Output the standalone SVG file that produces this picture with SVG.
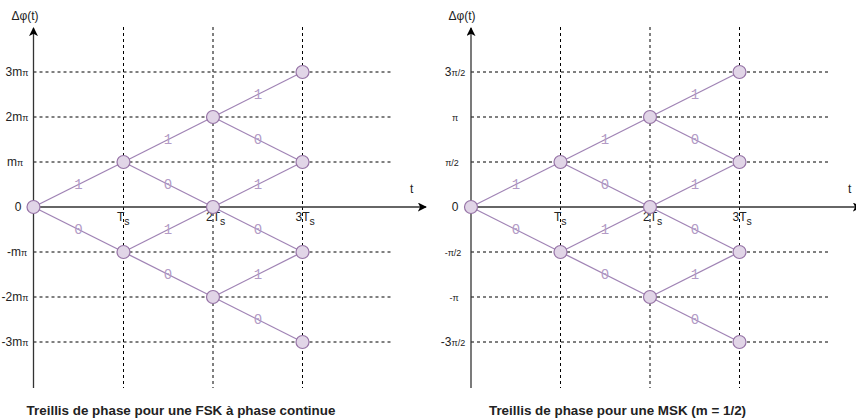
<svg xmlns="http://www.w3.org/2000/svg" width="856" height="420" viewBox="0 0 856 420">
<style>
.grid{stroke:#000;stroke-width:1;stroke-dasharray:3 3;fill:none}
.axis{stroke:#333;stroke-width:1.3;fill:none}
.edge{stroke:#a084b5;stroke-width:1.3;fill:none}
.node{fill:#e1d5e7;stroke:#9673a6;stroke-width:1.2}
.lbl{font-family:"Liberation Mono","DejaVu Sans Mono",monospace;font-size:14px;fill:#b39bc6;text-anchor:middle}
.t{font-family:"Liberation Sans",Arial,sans-serif;font-size:12px;fill:#222}
.c{text-anchor:middle}
.sm{font-size:9px}
.sub{font-size:10.5px}
.title{font-family:"Liberation Sans",Arial,sans-serif;font-size:13.4px;font-weight:bold;fill:#222;text-anchor:middle}
</style>
<defs>
<marker id="arr" viewBox="0 0 10 10" refX="9" refY="5" markerWidth="9" markerHeight="9" markerUnits="userSpaceOnUse" orient="auto">
<path d="M0,0 L10,5 L0,10 L2.5,5 Z" fill="#000"/>
</marker>
</defs>

<!-- LEFT CHART -->
<g id="left-grid">
<line class="grid" x1="33.5" y1="72" x2="393" y2="72"/>
<line class="grid" x1="33.5" y1="117" x2="393" y2="117"/>
<line class="grid" x1="33.5" y1="162" x2="393" y2="162"/>
<line class="grid" x1="33.5" y1="252" x2="393" y2="252"/>
<line class="grid" x1="33.5" y1="297" x2="393" y2="297"/>
<line class="grid" x1="33.5" y1="342" x2="393" y2="342"/>
<line class="grid" x1="123.5" y1="27" x2="123.5" y2="388"/>
<line class="grid" x1="213" y1="27" x2="213" y2="388"/>
<line class="grid" x1="302.5" y1="27" x2="302.5" y2="388"/>
</g>
<g id="left-axes">
<line class="axis" x1="33.5" y1="388" x2="33.5" y2="28" marker-end="url(#arr)"/>
<line class="axis" x1="33.5" y1="207" x2="426" y2="207" marker-end="url(#arr)"/>
<text class="t c" x="25" y="20">Δφ(t)</text>
<text class="t" x="410" y="193">t</text>
<text class="t c" x="17" y="76">3m<tspan class="sm">π</tspan></text>
<text class="t c" x="17" y="121">2m<tspan class="sm">π</tspan></text>
<text class="t c" x="15" y="166">m<tspan class="sm">π</tspan></text>
<text class="t c" x="18" y="211">0</text>
<text class="t c" x="17" y="256">-m<tspan class="sm">π</tspan></text>
<text class="t c" x="15" y="301">-2m<tspan class="sm">π</tspan></text>
<text class="t c" x="15" y="346">-3m<tspan class="sm">π</tspan></text>
<text class="t" x="117" y="221">T<tspan class="sub" dy="4">s</tspan></text>
<text class="t" x="206" y="221">2T<tspan class="sub" dy="4">s</tspan></text>
<text class="t" x="295.5" y="221">3T<tspan class="sub" dy="4">s</tspan></text>
</g>
<g id="left-connectors">
<line class="edge" x1="33.5" y1="207" x2="123.5" y2="162"/>
<line class="edge" x1="33.5" y1="207" x2="123.5" y2="252"/>
<line class="edge" x1="123.5" y1="162" x2="213" y2="117"/>
<line class="edge" x1="123.5" y1="162" x2="213" y2="207"/>
<line class="edge" x1="123.5" y1="252" x2="213" y2="207"/>
<line class="edge" x1="123.5" y1="252" x2="213" y2="297"/>
<line class="edge" x1="213" y1="117" x2="302.5" y2="72"/>
<line class="edge" x1="213" y1="117" x2="302.5" y2="162"/>
<line class="edge" x1="213" y1="207" x2="302.5" y2="162"/>
<line class="edge" x1="213" y1="207" x2="302.5" y2="252"/>
<line class="edge" x1="213" y1="297" x2="302.5" y2="252"/>
<line class="edge" x1="213" y1="297" x2="302.5" y2="342"/>
<text class="lbl" x="78.5" y="189">1</text>
<text class="lbl" x="78.5" y="234">0</text>
<text class="lbl" x="168" y="144">1</text>
<text class="lbl" x="168" y="189">0</text>
<text class="lbl" x="168" y="234">1</text>
<text class="lbl" x="168" y="279">0</text>
<text class="lbl" x="258" y="99">1</text>
<text class="lbl" x="258" y="144">0</text>
<text class="lbl" x="258" y="189">1</text>
<text class="lbl" x="258" y="234">0</text>
<text class="lbl" x="258" y="279">1</text>
<text class="lbl" x="258" y="324">0</text>
</g>
<g id="left-nodes">
<circle id="L00" class="node" cx="33.5" cy="207" r="6.5"/>
<circle id="L1p" class="node" cx="123.5" cy="162" r="6.5"/>
<circle id="L1m" class="node" cx="123.5" cy="252" r="6.5"/>
<circle id="L2p" class="node" cx="213" cy="117" r="6.5"/>
<circle id="L20" class="node" cx="213" cy="207" r="6.5"/>
<circle id="L2m" class="node" cx="213" cy="297" r="6.5"/>
<circle id="L3p3" class="node" cx="302.5" cy="72" r="6.5"/>
<circle id="L3p1" class="node" cx="302.5" cy="162" r="6.5"/>
<circle id="L3m1" class="node" cx="302.5" cy="252" r="6.5"/>
<circle id="L3m3" class="node" cx="302.5" cy="342" r="6.5"/>
</g>
<text class="title" x="181" y="415">Treillis de phase pour une FSK à phase continue</text>

<!-- RIGHT CHART -->
<g id="right-grid">
<line class="grid" x1="471" y1="72" x2="830" y2="72"/>
<line class="grid" x1="471" y1="117" x2="830" y2="117"/>
<line class="grid" x1="471" y1="162" x2="830" y2="162"/>
<line class="grid" x1="471" y1="252" x2="830" y2="252"/>
<line class="grid" x1="471" y1="297" x2="830" y2="297"/>
<line class="grid" x1="471" y1="342" x2="830" y2="342"/>
<line class="grid" x1="560.5" y1="27" x2="560.5" y2="388"/>
<line class="grid" x1="650" y1="27" x2="650" y2="388"/>
<line class="grid" x1="739.5" y1="27" x2="739.5" y2="388"/>
</g>
<g id="right-axes">
<line class="axis" x1="471" y1="388" x2="471" y2="28" marker-end="url(#arr)"/>
<line class="axis" x1="471" y1="207" x2="861" y2="207" marker-end="url(#arr)"/>
<text class="t c" x="462" y="20">Δφ(t)</text>
<text class="t" x="848" y="193">t</text>
<text class="t c" x="455" y="76">3<tspan class="sm">π/2</tspan></text>
<text class="t c sm" x="455" y="121">π</text>
<text class="t c sm" x="452" y="166">π/2</text>
<text class="t c" x="455" y="211">0</text>
<text class="t c sm" x="453" y="256">-π/2</text>
<text class="t c sm" x="454" y="301">-π</text>
<text class="t c" x="453" y="346">-3<tspan class="sm">π/2</tspan></text>
<text class="t" x="554" y="221">T<tspan class="sub" dy="4">s</tspan></text>
<text class="t" x="643" y="221">2T<tspan class="sub" dy="4">s</tspan></text>
<text class="t" x="732.5" y="221">3T<tspan class="sub" dy="4">s</tspan></text>
</g>
<g id="right-connectors">
<line class="edge" x1="471" y1="207" x2="560.5" y2="162"/>
<line class="edge" x1="471" y1="207" x2="560.5" y2="252"/>
<line class="edge" x1="560.5" y1="162" x2="650" y2="117"/>
<line class="edge" x1="560.5" y1="162" x2="650" y2="207"/>
<line class="edge" x1="560.5" y1="252" x2="650" y2="207"/>
<line class="edge" x1="560.5" y1="252" x2="650" y2="297"/>
<line class="edge" x1="650" y1="117" x2="739.5" y2="72"/>
<line class="edge" x1="650" y1="117" x2="739.5" y2="162"/>
<line class="edge" x1="650" y1="207" x2="739.5" y2="162"/>
<line class="edge" x1="650" y1="207" x2="739.5" y2="252"/>
<line class="edge" x1="650" y1="297" x2="739.5" y2="252"/>
<line class="edge" x1="650" y1="297" x2="739.5" y2="342"/>
<text class="lbl" x="516" y="189">1</text>
<text class="lbl" x="516" y="234">0</text>
<text class="lbl" x="605" y="144">1</text>
<text class="lbl" x="605" y="189">0</text>
<text class="lbl" x="605" y="234">1</text>
<text class="lbl" x="605" y="279">0</text>
<text class="lbl" x="695" y="99">1</text>
<text class="lbl" x="695" y="144">0</text>
<text class="lbl" x="695" y="189">1</text>
<text class="lbl" x="695" y="234">0</text>
<text class="lbl" x="695" y="279">1</text>
<text class="lbl" x="695" y="324">0</text>
</g>
<g id="right-nodes">
<circle id="R00" class="node" cx="471" cy="207" r="6.5"/>
<circle id="R1p" class="node" cx="560.5" cy="162" r="6.5"/>
<circle id="R1m" class="node" cx="560.5" cy="252" r="6.5"/>
<circle id="R2p" class="node" cx="650" cy="117" r="6.5"/>
<circle id="R20" class="node" cx="650" cy="207" r="6.5"/>
<circle id="R2m" class="node" cx="650" cy="297" r="6.5"/>
<circle id="R3p3" class="node" cx="739.5" cy="72" r="6.5"/>
<circle id="R3p1" class="node" cx="739.5" cy="162" r="6.5"/>
<circle id="R3m1" class="node" cx="739.5" cy="252" r="6.5"/>
<circle id="R3m3" class="node" cx="739.5" cy="342" r="6.5"/>
</g>
<text class="title" x="617.5" y="415">Treillis de phase pour une MSK (m = 1/2)</text>
</svg>
